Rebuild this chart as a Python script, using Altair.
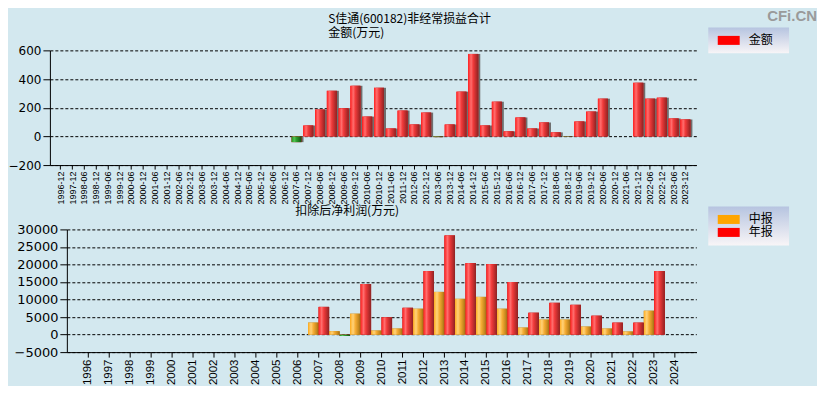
import altair as alt
import pandas as pd

# ---------------- data ----------------
periods = ["1996-12", "1997-12", "1998-06", "1998-12", "1999-06", "1999-12",
           "2000-06", "2000-12", "2001-06", "2001-12", "2002-06", "2002-12",
           "2003-06", "2003-12", "2004-06", "2004-12", "2005-06", "2005-12",
           "2006-06", "2006-12", "2007-06", "2007-12", "2008-06", "2008-12",
           "2009-06", "2009-12", "2010-06", "2010-12", "2011-06", "2011-12",
           "2012-06", "2012-12", "2013-06", "2013-12", "2014-06", "2014-12",
           "2015-06", "2015-12", "2016-06", "2016-12", "2017-06", "2017-12",
           "2018-06", "2018-12", "2019-06", "2019-12", "2020-06", "2020-12",
           "2021-06", "2021-12", "2022-06", "2022-12", "2023-06", "2023-12"]
amounts = [None, None, None, None, None, None,
           None, None, None, None, None, None,
           None, None, None, None, None, None,
           None, None, -40, 76, 187, 318,
           196, 353, 138, 339, 55, 180,
           83, 166, -5, 83, 312, 575,
           76, 242, 35, 132, 55, 97,
           28, -3, 104, 173, 263, None,
           None, 374, 263, 270, 125, 118]

years = ["1996", "1997", "1998", "1999", "2000", "2001", "2002", "2003",
         "2004", "2005", "2006", "2007", "2008", "2009", "2010", "2011",
         "2012", "2013", "2014", "2015", "2016", "2017", "2018", "2019",
         "2020", "2021", "2022", "2023", "2024"]
interim = [None, None, None, None, None, None, None, None,
           None, None, None, 3400, 940, 5940, 1130, 1700,
           7360, 12170, 10190, 10750, 7360, 1980, 4250, 4250,
           2260, 1700, 850, 6790, None]
annual = [None, None, None, None, None, None, None, None,
          None, None, None, 7900, -400, 14430, 4900, 7640,
          18110, 28300, 20380, 20090, 15000, 6230, 9060, 8490,
          5380, 3400, 3400, 18110, None]

top_series = ["金额"]
bottom_series = ["中报", "年报"]

main_title = "S佳通(600182)非经常损益合计"
top_sub = "金额(万元)"
bottom_sub = "扣除后净利润(万元)"
watermark = "CFi.CN"

# ---------------- tables ----------------
df_top = pd.DataFrame({"period": periods, "value": amounts})
df_top["series"] = top_series[0]
df_top = df_top.dropna(subset=["value"])

rows = []
for y, a, b in zip(years, interim, annual):
    if a is not None:
        rows.append({"year": y, "type": bottom_series[0], "value": a})
    if b is not None:
        rows.append({"year": y, "type": bottom_series[1], "value": b})
df_bot = pd.DataFrame(rows)

# ---------------- styles ----------------
CJK = "Noto Sans CJK SC"


def grad(stops):
    return alt.LinearGradient(
        gradient="linear", x1=0, x2=1, y1=0, y2=0,
        stops=[alt.GradientStop(color=c, offset=o) for o, c in stops])


RED = grad([(0, "#ff1f1f"), (0.28, "#ff6e6e"), (0.5, "#f03a3a"),
            (0.8, "#b82b2b"), (1, "#8c2424")])
GREEN = grad([(0, "#1f8f1f"), (0.28, "#52c452"), (0.5, "#2c9e2c"),
              (0.8, "#1d6f1d"), (1, "#145214")])
ORANGE = grad([(0, "#ffae22"), (0.28, "#ffd27a"), (0.5, "#f6ad35"),
               (0.8, "#c88a1e"), (1, "#9a6a18")])
SHADOW = "#6f6f6f"
SWATCH = "M-2,-0.82H2V0.82H-2Z"
LEGEND_FILL = ("{gradient:'linear',x1:0,y1:0,x2:0,y2:1,"
               "stops:[{offset:0,color:'#b6c4e0'},{offset:1,color:'#f8f5f7'}]}")
PAD = "\u2800"


def legend(y):
    return alt.Legend(
        title=None, orient="none", legendX=643, legendY=y,
        fillColor={"expr": LEGEND_FILL}, padding=7, symbolType=SWATCH,
        symbolSize=121, symbolStrokeWidth=0, symbolOffset=7.5, labelOffset=14,
        labelFont=CJK, labelFontSize=12, labelColor="black",
        rowPadding=1, labelExpr="datum.label + '" + PAD + "'")


def yaxis(vals, size, extent, offset=0):
    return alt.Axis(title=None, values=vals, format="d", grid=True, gridDash=[3, 2],
                    gridColor="black", gridOpacity=1, labelFont="DejaVu Sans",
                    labelFontSize=size, labelColor="black", tickSize=7,
                    labelPadding=2, tickColor="black", domainColor="black",
                    offset=offset, minExtent=0, maxExtent=extent)


def xaxis(size, tick):
    return alt.Axis(title=None, labelAngle=270, labelFont="Liberation Sans",
                    labelFontSize=size, labelColor="black", tickSize=tick,
                    labelPadding=2, tickColor="black", domainColor="black",
                    grid=False, minExtent=10, maxExtent=80)


# ---------------- top chart ----------------
x_top = alt.X("period:N", sort=periods,
              scale=alt.Scale(domain=periods, paddingInner=0.15, paddingOuter=0.5,
                              range=[-17, 631]),
              axis=xaxis(9, 4))
y_top = alt.Y("value:Q", scale=alt.Scale(domain=[-200, 600], nice=False, zero=False),
              axis=yaxis([-200, 0, 200, 400, 600], 12, 44, offset=17))
base_top = alt.Chart(df_top).encode(x=x_top, y=y_top, y2=alt.datum(0))

top = alt.layer(
    base_top.mark_bar(color=SHADOW, xOffset=2),
    base_top.mark_bar().encode(
        color=alt.Color("series:N", scale=alt.Scale(domain=top_series, range=["#ff0000"]),
                        legend=legend(-23))),
    base_top.mark_bar(color=RED).transform_filter("datum.value >= 0"),
    base_top.mark_bar(color=GREEN).transform_filter("datum.value < 0"),
).properties(
    width=631, height=115,
    title=alt.TitleParams(text=main_title, subtitle=top_sub, anchor="start",
                          frame="group", dx=262, font=CJK, subtitleFont=CJK,
                          fontSize=12, subtitleFontSize=12, fontWeight="normal",
                          color="black", subtitleColor="black", offset=-13,
                          subtitlePadding=2))

# ---------------- bottom chart ----------------
x_bot = alt.X("year:N", sort=years,
              scale=alt.Scale(domain=years, paddingInner=0, paddingOuter=0.5),
              axis=xaxis(11.5, 5))
xo_bot = alt.XOffset("type:N", sort=bottom_series,
                     scale=alt.Scale(domain=bottom_series, paddingInner=0, paddingOuter=0))
y_bot = alt.Y("value:Q", scale=alt.Scale(domain=[-5000, 30000], nice=False, zero=False),
              axis=yaxis([-5000, 0, 5000, 10000, 15000, 20000, 25000, 30000], 13, 61))
base_bot = alt.Chart(df_bot).encode(x=x_bot, xOffset=xo_bot, y=y_bot, y2=alt.datum(0))

bottom = alt.layer(
    base_bot.mark_bar(color=SHADOW, xOffset=2),
    base_bot.mark_bar().encode(
        color=alt.Color("type:N", scale=alt.Scale(domain=bottom_series,
                                                  range=["#ffa500", "#ff0000"]),
                        legend=legend(-23))),
    base_bot.mark_bar(color=ORANGE).transform_filter(
        "datum.value >= 0 && datum.type == '中报'"),
    base_bot.mark_bar(color=RED).transform_filter(
        "datum.value >= 0 && datum.type == '年报'"),
    base_bot.mark_bar(color=GREEN).transform_filter("datum.value < 0"),
).properties(
    width=631, height=123,
    title=alt.TitleParams(text=bottom_sub, anchor="start", frame="group", dx=229,
                          font=CJK, fontSize=12, fontWeight="normal",
                          color="black", offset=-12))

chart = alt.vconcat(
    top, bottom, spacing=0.5,
    title=alt.TitleParams(text=watermark, anchor="end", font="Liberation Sans",
                          fontSize=15, fontWeight="bold", color="#9a9a9a",
                          offset=-10.4, dx=28),
).resolve_scale(color="independent").properties(
    padding={"left": 0, "top": 0, "right": 0, "bottom": 0},
    background="#d3e8ef",
).configure_view(stroke=None)

chart.save("out.html", embed_options={"renderer": "svg", "actions": False})
